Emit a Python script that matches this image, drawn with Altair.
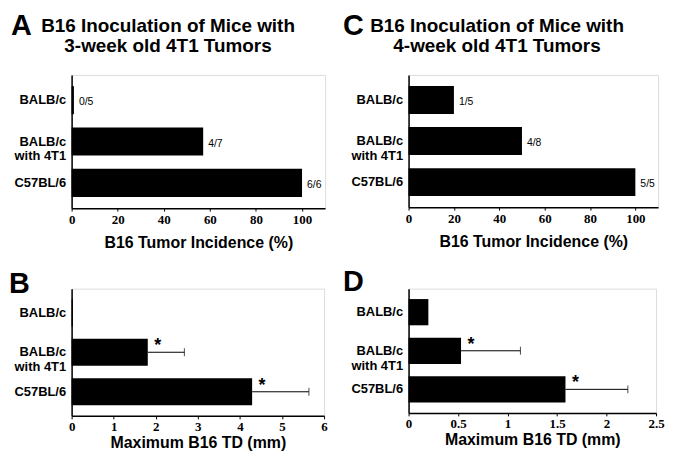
import altair as alt
import pandas as pd

groups = ["BALB/c", "BALB/c with 4T1", "C57BL/6"]

inc_3wk = [1, 57.1, 100]
inc_3wk_labels = ["0/5", "4/7", "6/6"]
inc_4wk = [20, 50, 100]
inc_4wk_labels = ["1/5", "4/8", "5/5"]

td_3wk = [0.03, 1.81, 4.29]
td_3wk_err = [0, 0.87, 1.35]
td_3wk_sig = ["", "*", "*"]
td_4wk = [0.2, 0.53, 1.585]
td_4wk_err = [0, 0.6, 0.63]
td_4wk_sig = ["", "*", "*"]

inc_ticks = [0, 20, 40, 60, 80, 100]
td3_ticks = [0, 1, 2, 3, 4, 5, 6]
td4_ticks = [0, 0.5, 1, 1.5, 2, 2.5]

title_3wk = "B16 Inoculation of Mice with\n3-week old 4T1 Tumors"
title_4wk = "B16 Inoculation of Mice with\n4-week old 4T1 Tumors"

SANS = "Liberation Sans"
SERIF = "Liberation Serif"
LABEL_EXPR = "datum.label == 'BALB/c with 4T1' ? ['BALB/c', 'with 4T1'] : datum.label"


def y_enc():
    return alt.Y(
        "group:N", sort=groups, title=None,
        scale=alt.Scale(paddingInner=0.32, paddingOuter=0.27),
        axis=alt.Axis(labelExpr=LABEL_EXPR, labelFont=SANS, labelFontWeight="bold",
                      labelFontSize=13, labelLineHeight=15, labelColor="black",
                      labelPadding=6, ticks=False, domainColor="black", domainWidth=1.5,
                      labelAlign="right"),
    )


def x_enc(dom, vals, title, title_pad):
    return alt.X(
        "value:Q",
        scale=alt.Scale(domain=dom, nice=False, zero=True),
        axis=alt.Axis(values=vals, format="~r", title=title, titleFont=SANS, titleFontSize=16,
                      titleFontWeight="bold", titleColor="black", titlePadding=title_pad,
                      labelFont=SERIF, labelFontWeight="bold", labelFontSize=13,
                      labelColor="black", labelPadding=2, tickSize=3, tickColor="black",
                      domainColor="black", domainWidth=1.5, grid=False, labelFlush=False),
    )


def panel(letter, letter_x, letter_y, title, title_x, vals, dom, ticks, xtitle, title_pad,
          width, height, labels=None, err=None, sig=None):
    df = pd.DataFrame({"group": groups, "value": vals})
    if labels is not None:
        df["label"] = labels
    if err is not None:
        df["upper"] = [v + e for v, e in zip(vals, err)]
        df["err"] = err
        df["sig"] = sig
    base = alt.Chart(df)
    layers = [base.mark_bar(color="black").encode(x=x_enc(dom, ticks, xtitle, title_pad), y=y_enc())]
    if labels is not None:
        layers.append(
            base.mark_text(align="left", baseline="middle", dx=5, dy=2, font=SANS,
                           fontSize=10.5, color="black")
            .encode(x="value:Q", y=alt.Y("group:N", sort=groups), text="label:N")
        )
    if err is not None:
        eb = base.transform_filter("datum.err > 0")
        layers.append(
            eb.mark_rule(color="black", strokeWidth=1)
            .encode(x="value:Q", x2="upper:Q", y=alt.Y("group:N", sort=groups))
        )
        layers.append(
            eb.mark_tick(color="black", thickness=1, size=8, orient="vertical")
            .encode(x="upper:Q", y=alt.Y("group:N", sort=groups))
        )
        layers.append(
            eb.mark_text(align="center", baseline="middle", dx=10, dy=-6, font=SANS,
                         fontSize=18, fontWeight="bold", color="black")
            .encode(x="value:Q", y=alt.Y("group:N", sort=groups), text="sig:N")
        )
    layers.append(
        alt.Chart(pd.DataFrame({"letter": [letter]}))
        .mark_text(align="left", baseline="alphabetic", font=SANS, fontSize=29,
                   fontWeight="bold", color="black")
        .encode(text="letter:N", x=alt.value(letter_x), y=alt.value(letter_y))
    )
    if title is not None:
        layers.append(
            alt.Chart(pd.DataFrame({"title": [title]}))
            .mark_text(align="center", baseline="top", font=SANS, fontSize=19,
                       fontWeight="bold", color="black", lineBreak="\n", lineHeight=20)
            .encode(text="title:N", x=alt.value(title_x), y=alt.value(-58))
        )
    return alt.layer(*layers).properties(width=width, height=height)


A = panel("A", -61, -40, title_3wk, 97, inc_3wk, [0, 110], inc_ticks,
          "B16 Tumor Incidence (%)", 9, 255, 134, labels=inc_3wk_labels)
C = panel("C", -66, -40, title_4wk, 89, inc_4wk, [0, 110], inc_ticks,
          "B16 Tumor Incidence (%)", 9, 251, 133, labels=inc_4wk_labels)
B = panel("B", -63, 4, None, 0, td_3wk, [0, 6], td3_ticks, "Maximum B16 TD (mm)", 1,
          254, 128, err=td_3wk_err, sig=td_3wk_sig)
D = panel("D", -66, 2, None, 0, td_4wk, [0, 2.5], td4_ticks, "Maximum B16 TD (mm)", 1,
          249, 125, err=td_4wk_err, sig=td_4wk_sig)

chart = (
    alt.concat(A, C, B, D, columns=2, spacing={"row": 81, "column": 84}, bounds="flush")
    .resolve_scale(x="independent", y="independent")
    .properties(padding={"left": 0, "top": 2, "right": 0, "bottom": 0})
    .configure_view(strokeWidth=0)
    .configure(background="white")
)

chart.save("out.html", embed_options={"renderer": "svg", "actions": False})
